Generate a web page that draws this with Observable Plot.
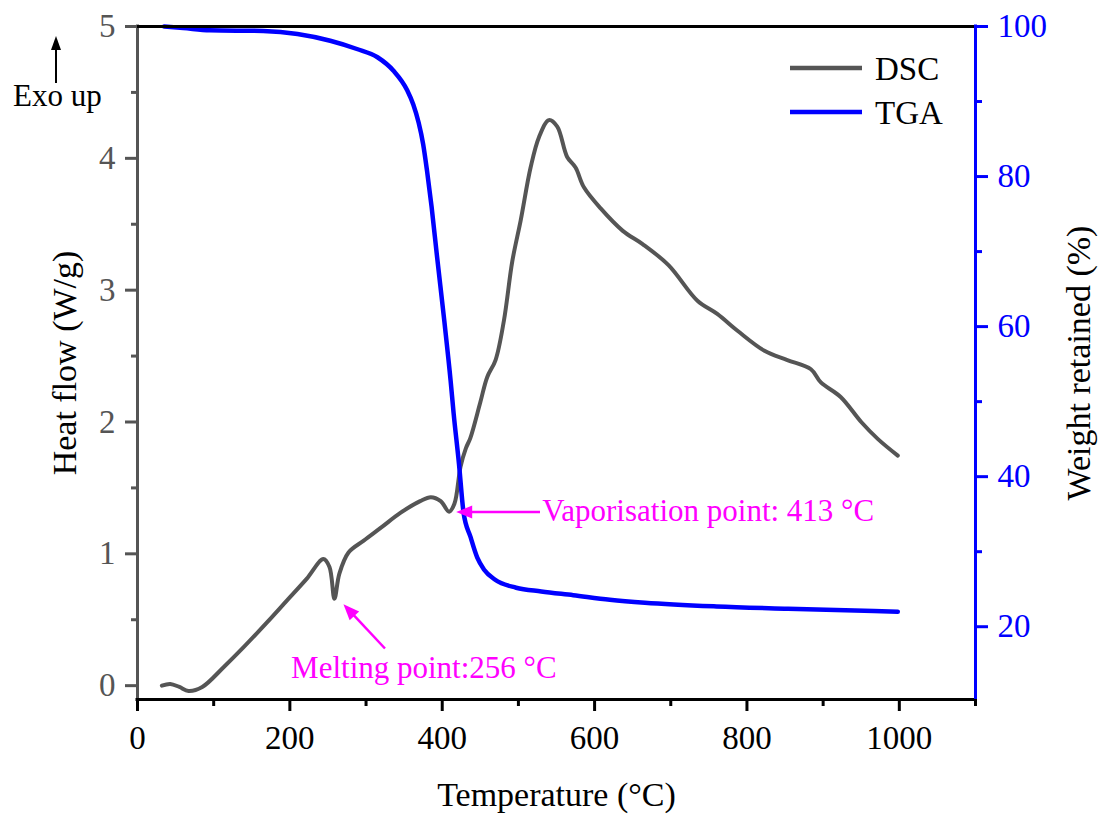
<!DOCTYPE html>
<html><head><meta charset="utf-8">
<script src="https://cdn.jsdelivr.net/npm/d3@7"></script>
<script src="https://cdn.jsdelivr.net/npm/@observablehq/plot@0.6"></script>
<style>body{margin:0;background:#fff;} svg{display:block;} svg text{font-family:'Liberation Serif','Times New Roman',serif;font-variant-numeric:normal;}</style>
</head><body><div id="chart"></div>
<script>
// ---- data ----
const dscTemp = [32,43,55,67,85,113,139,170,196,222,244,252,258.5,265,277,297,320,345,371,385,398,409,416,424,431,437,450,459,470,481,492,503,516,527,540,551,564,575,586,608,637,663,697,735,761,788,823,853,884,897,923,950,972,998];
const dscHeat = [0.0,0.013,-0.01,-0.04,-0.01,0.14,0.29,0.48,0.645,0.81,0.96,0.90,0.66,0.85,1.01,1.10,1.20,1.31,1.40,1.43,1.40,1.32,1.38,1.66,1.80,1.88,2.15,2.34,2.47,2.77,3.22,3.53,3.93,4.16,4.29,4.24,4.01,3.93,3.78,3.62,3.45,3.35,3.19,2.92,2.82,2.69,2.54,2.47,2.40,2.30,2.19,2.00,1.87,1.745];
const tgaTemp = [35,60,95,165,210,253,288,315,336,354,362,369,375,380,386,393,403,411,415,422,428,437,446,455,469,497,530,572,620,666,760,854,998];
const tgaWeight = [100.0,99.8,99.5,99.4,99.0,98.1,97.0,95.9,94.1,91.5,89.6,87.2,84.3,80.8,76.0,69.5,60.5,52.8,48.4,41.7,35.2,32.0,29.2,27.6,26.3,25.2,24.7,24.2,23.6,23.2,22.7,22.4,22.0];
const seriesNames = ["DSC", "TGA"];
const seriesColors = ["#555555", "#0000ff"];
const xTicks = [0,200,400,600,800,1000];
const xMinor = [100,300,500,700,900,1100];
const leftTicks = [0,1,2,3,4,5];
const leftMinor = [0.5,1.5,2.5,3.5,4.5];
const rightTicks = [20,40,60,80,100];
const rightMinor = [30,50,70,90];
const annoText = ["Melting point:256 °C", "Vaporisation point: 413 °C"];
const annoTextX = [201.6, 531.4];
const annoTextY = [0.137, 1.328];
const arrowFromX = [325.5, 529];
const arrowFromY = [0.278, 1.313];
const arrowToX = [271, 419];
const arrowToY = [0.614, 1.313];

// ---- scales ----
const xDomain = [0, 1100];
const L = [-0.105, 5];
const R = [10.3, 100];
const toLeft = v => L[0] + (v - R[0]) * (L[1] - L[0]) / (R[1] - R[0]);
const toRight = d => R[0] + (d - L[0]) * (R[1] - R[0]) / (L[1] - L[0]);

const dsc = dscTemp.map((t, i) => ({t, v: dscHeat[i]}));
const tga = tgaTemp.map((t, i) => ({t, v: toLeft(tgaWeight[i])}));
const annos = annoText.map((s, i) => ({s, x: annoTextX[i], y: annoTextY[i]}));

const font = "'Liberation Serif','Times New Roman',serif";
const magenta = "#ff00ff";

const plot = Plot.plot({
  width: 1101, height: 819,
  marginTop: 26, marginRight: 126, marginBottom: 120, marginLeft: 137,
  style: {fontFamily: font, background: "white", overflow: "visible"},
  x: {domain: xDomain},
  y: {domain: L},
  marks: [
    Plot.line(dsc, {x: "t", y: "v", stroke: seriesColors[0], strokeWidth: 4, curve: "catmull-rom"}),
    Plot.line(tga, {x: "t", y: "v", stroke: seriesColors[1], strokeWidth: 4.5, curve: "monotone-x"}),
    Plot.ruleX([xDomain[0]], {stroke: "#555555", strokeWidth: 3, strokeLinecap: "square"}),
    Plot.ruleY([L[1]], {stroke: "black", strokeWidth: 3, strokeLinecap: "square"}),
    Plot.ruleY([L[0]], {stroke: "black", strokeWidth: 3, strokeLinecap: "square"}),
    Plot.ruleX([xDomain[1]], {stroke: "#0000ff", strokeWidth: 3, strokeLinecap: "square"}),
    Plot.axisX(xTicks, {anchor: "bottom", tickSize: 12, tickPadding: 14, fontSize: 33, stroke: "black", fill: "black", strokeWidth: 3, tickFormat: d => String(d), label: null}),
    Plot.axisX(xMinor, {anchor: "bottom", tickSize: 7, stroke: "black", fill: "none", strokeWidth: 3, tickFormat: () => "", label: null}),
    Plot.axisY(leftTicks, {anchor: "left", tickSize: 12, tickPadding: 10, fontSize: 33, stroke: "#555555", fill: "#555555", strokeWidth: 3, tickFormat: d => String(d), label: null}),
    Plot.axisY(leftMinor, {anchor: "left", tickSize: 6, stroke: "#555555", fill: "none", strokeWidth: 3, tickFormat: () => "", label: null}),
    Plot.axisY(rightTicks.map(toLeft), {anchor: "right", tickSize: 12, tickPadding: 10, fontSize: 33, stroke: "#0000ff", fill: "#0000ff", strokeWidth: 3, tickFormat: d => String(Math.round(toRight(d))), label: null}),
    Plot.axisY(rightMinor.map(toLeft), {anchor: "right", tickSize: 6, stroke: "#0000ff", fill: "none", strokeWidth: 3, tickFormat: () => "", label: null}),
    Plot.text(["Temperature (°C)"], {text: d => d, frameAnchor: "bottom", dy: 96, fontSize: 34, fill: "black", textAnchor: "middle", lineAnchor: "middle"}),
    Plot.text(["Heat flow (W/g)"], {text: d => d, frameAnchor: "left", dx: -72, rotate: -90, fontSize: 34, fill: "black", textAnchor: "middle", lineAnchor: "middle"}),
    Plot.text(["Weight retained (%)"], {text: d => d, frameAnchor: "right", dx: 104, rotate: -90, fontSize: 34, fill: "black", textAnchor: "middle", lineAnchor: "middle"}),
    Plot.text(annos, {x: "x", y: "y", text: "s", textAnchor: "start", lineAnchor: "middle", fontSize: 31, fill: magenta})
  ]
});

document.getElementById("chart").appendChild(plot);

// ---- decorations: arrows, legend, Exo up ----
const svg = d3.select(plot);
const xs = plot.scale("x"), ys = plot.scale("y");

function arrow(g, x1, y1, x2, y2, color, len, half, sw) {
  const dx = x2 - x1, dy = y2 - y1, d = Math.hypot(dx, dy);
  const ux = dx / d, uy = dy / d;
  const bx = x2 - ux * len, by = y2 - uy * len;
  g.append("line").attr("x1", x1).attr("y1", y1).attr("x2", bx + ux * 2).attr("y2", by + uy * 2)
    .attr("stroke", color).attr("stroke-width", sw);
  g.append("polygon")
    .attr("points", [[x2, y2], [bx - uy * half, by + ux * half], [bx + uy * half, by - ux * half]].map(p => p.join(",")).join(" "))
    .attr("fill", color);
}

const deco = svg.append("g").attr("text-anchor", "start");
for (let i = 0; i < arrowFromX.length; i++) {
  arrow(deco, xs.apply(arrowFromX[i]), ys.apply(arrowFromY[i]), xs.apply(arrowToX[i]), ys.apply(arrowToY[i]), magenta, 16, 6.5, 2.5);
}

// Exo up
arrow(deco, 56, 83, 56, 36, "black", 14, 5, 2);
deco.append("text").attr("x", 13).attr("y", 106).attr("text-anchor", "start").attr("font-family", font).attr("font-size", 31).attr("fill", "black").text("Exo up");

// legend
const legY = [68, 112];
seriesNames.forEach((name, i) => {
  deco.append("line").attr("x1", 790).attr("x2", 862).attr("y1", legY[i]).attr("y2", legY[i])
    .attr("stroke", seriesColors[i]).attr("stroke-width", 4.5);
  deco.append("text").attr("x", 875).attr("y", legY[i] + 12).attr("text-anchor", "start").attr("font-family", font).attr("font-size", 33)
    .attr("fill", "black").text(name);
});
</script>
</body></html>
